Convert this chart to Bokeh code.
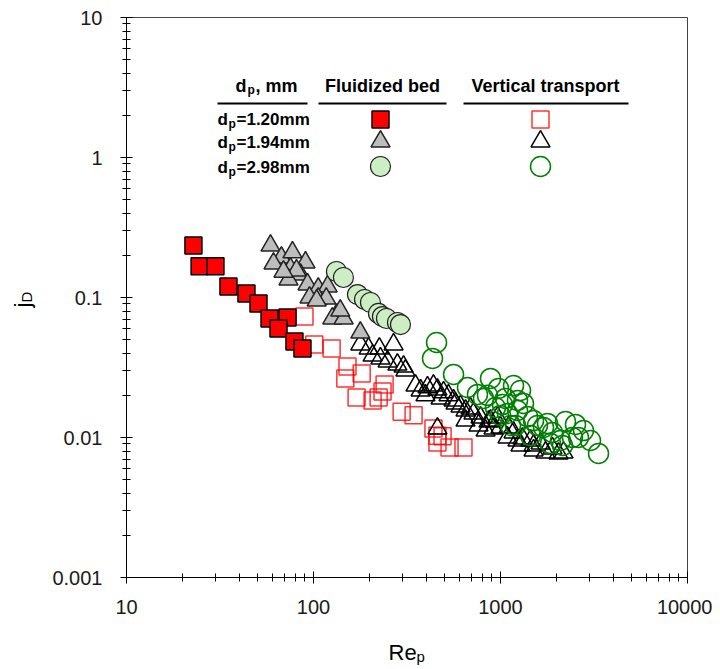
import math
from bokeh.plotting import figure
from bokeh.layouts import row, column
from bokeh.models import FixedTicker, CustomJSTickFormatter, Label, BoxAnnotation
from bokeh.embed import file_html
from bokeh.resources import INLINE

# ---------------- data (Re_p, j_D) ----------------
fb_120_re = [22.8, 24.6, 29.9, 35.1, 43.8, 50.8, 58.2, 72.6, 65.0, 79.1, 87.3]
fb_120_jd = [0.235, 0.167, 0.167, 0.120, 0.107, 0.0906, 0.0708, 0.072, 0.060, 0.0485, 0.0432]

vt_120_re = [89.5, 101, 125, 152, 148, 181, 240, 170, 207, 223, 234, 296, 343, 438, 460, 460, 490, 534, 634]
vt_120_jd = [0.0731, 0.0461, 0.0432, 0.0321, 0.0264, 0.0286, 0.0239, 0.0193, 0.0184, 0.0193, 0.0213,
             0.0153, 0.0144, 0.0116, 0.0103, 0.0092, 0.0102, 0.0085, 0.0085]

fb_194_re = [58.9, 67.4, 77.2, 90.6, 61.1, 75.3, 85.2, 73.5, 92.9, 106, 119, 95.2, 106, 117, 133, 126,
             145, 139, 178, 104, 81.1, 69.1]
fb_194_jd = [0.235, 0.193, 0.210, 0.178, 0.175, 0.161, 0.146, 0.1345, 0.124, 0.116, 0.120, 0.100,
             0.0984, 0.0984, 0.0756, 0.0708, 0.0708, 0.0807, 0.0562, 0.0952, 0.156, 0.153]

vt_194_re = [178, 197, 225, 268, 207, 249, 281, 303, 310, 228, 351, 407, 438, 460, 496, 527, 478, 561,
             575, 611, 650, 691, 717, 782, 863, 918, 884, 964, 1000, 1104, 1174, 1090, 1233, 1311, 1447,
             1502, 1637, 1502, 1740, 1897, 2043, 2173, 374, 397, 763, 832, 650, 1279, 460]
vt_194_jd = [0.0462, 0.0432, 0.0432, 0.0462, 0.0385, 0.0349, 0.0332, 0.0321, 0.0301, 0.0367, 0.0235,
             0.0228, 0.0235, 0.0220, 0.0210, 0.0200, 0.0190, 0.0184, 0.0175, 0.01666, 0.01559, 0.0161,
             0.01484, 0.0139, 0.0130, 0.0116, 0.0132, 0.0139, 0.0118, 0.0118, 0.01086, 0.0100, 0.00952,
             0.00984, 0.00952, 0.00877, 0.00906, 0.00808, 0.00781, 0.00835, 0.00769, 0.00781, 0.0217,
             0.0200, 0.0122, 0.0112, 0.0132, 0.00877, 0.0116]

fb_298_re = [132.7, 144.6, 171.9, 187.5, 201.7, 222.6, 233.8, 245.6, 281.3, 291.9]
fb_298_jd = [0.1534, 0.139, 0.105, 0.0968, 0.0921, 0.0769, 0.0731, 0.0708, 0.0663, 0.0641]

vt_298_re = [455, 433, 561, 666, 753, 884, 976, 1174, 1279, 811, 1025, 1090, 1233, 1233, 1395, 1502,
             1698, 1897, 2226, 2518, 2779, 2613, 3029, 3343, 2146, 1851, 1447, 1131, 940, 1063, 852,
             1327, 1577, 1784, 2094, 2427, 1203, 1000]
vt_298_jd = [0.0477, 0.0367, 0.0282, 0.0228, 0.0203, 0.0264, 0.0224, 0.0235, 0.0217, 0.0190, 0.0172,
             0.01484, 0.0184, 0.01559, 0.0141, 0.0132, 0.0118, 0.01086, 0.0130, 0.0124, 0.0112, 0.0100,
             0.00952, 0.00769, 0.00877, 0.00906, 0.01033, 0.0122, 0.01638, 0.0190, 0.0200, 0.0175,
             0.0122, 0.0126, 0.00952, 0.0100, 0.0122, 0.01436]

x_major = [10, 100, 1000, 10000]
y_major = [0.001, 0.01, 0.1, 1, 10]
col_headers = ["Fluidized bed", "Vertical transport"]
row_labels = ["=1.20mm", "=1.94mm", "=2.98mm"]

FONT = "Liberation Sans"
LW = 40                      # width of the left strip holding the y title
TOTAL_H = 669
W = 712 - LW
FL, FR, FT, FB = 126 - LW, 25, 17, 45
H = FT + 560 + FB
FW, FH = W - FL - FR, H - FT - FB
BH = TOTAL_H - H             # height of the bottom strip holding the x title

p = figure(width=W, height=H, x_axis_type="log", y_axis_type="log",
           x_range=(10, 10000), y_range=(0.001, 10),
           output_backend="svg", toolbar_location=None,
           min_border_left=FL, min_border_right=FR, min_border_top=FT, min_border_bottom=FB)
p.background_fill_color = "white"
p.border_fill_color = "white"
p.outline_line_color = "#444444"
p.outline_line_width = 1
p.xgrid.visible = False
p.ygrid.visible = False

x_minor = [k * 10 ** e for e in range(1, 4) for k in range(2, 10)]
y_minor = [k * 10.0 ** e for e in range(-3, 1) for k in range(2, 10)]
p.xaxis.ticker = FixedTicker(ticks=x_major, minor_ticks=x_minor)
p.yaxis.ticker = FixedTicker(ticks=y_major, minor_ticks=y_minor)
fmt = CustomJSTickFormatter(code="return tick.toString();")
p.xaxis.formatter = fmt
p.yaxis.formatter = fmt

for ax in (p.xaxis, p.yaxis):
    ax.axis_line_color = "black"
    ax.axis_line_width = 1
    ax.major_tick_line_color = "black"
    ax.minor_tick_line_color = "black"
    ax.major_tick_in = 6
    ax.major_tick_out = 6
    ax.minor_tick_in = 4
    ax.minor_tick_out = 4
    ax.major_label_text_font = FONT
    ax.major_label_text_font_size = "20px"
    ax.major_label_text_color = "#1a1a1a"
p.xaxis.major_label_standoff = 16
p.yaxis.major_label_standoff = 18

# ---------------- data markers ----------------
p.scatter(vt_120_re, vt_120_jd, marker="square", size=17, fill_color=None,
          line_color="#ff0000", line_alpha=0.8, line_width=1.5)
p.scatter(vt_194_re, vt_194_jd, marker="triangle", size=19, fill_color=None,
          line_color="black", line_width=1.5)
p.scatter(vt_298_re, vt_298_jd, marker="circle", size=20, fill_color=None,
          line_color="#008000", line_width=1.5)
p.scatter(fb_120_re, fb_120_jd, marker="square", size=17, fill_color="#ff0000",
          line_color="black", line_width=1.5)
p.scatter(fb_194_re, fb_194_jd, marker="triangle", size=19, fill_color="#bdbdbd",
          line_color="#222222", line_width=1.5)
p.scatter(fb_298_re, fb_298_jd, marker="circle", size=20, fill_color="#cdeec4",
          line_color="#222222", line_width=1.2)

# ---------------- legend table ----------------
def fx(px):
    return 10 ** (1 + 3 * px / FW)

def fy(py):
    return 10 ** (-3 + 4 * py / FH)

col_x = [254, 414]
row_y = [458, 436, 411]
styles = [
    [dict(marker="square", size=17, fill_color="#ff0000", line_color="black", line_width=1.5),
     dict(marker="square", size=17, fill_color=None, line_color="#ff0000", line_alpha=0.8, line_width=1.5)],
    [dict(marker="triangle", size=19, fill_color="#bdbdbd", line_color="#222222", line_width=1.5),
     dict(marker="triangle", size=19, fill_color=None, line_color="black", line_width=1.5)],
    [dict(marker="circle", size=20, fill_color="#cdeec4", line_color="#222222", line_width=1.2),
     dict(marker="circle", size=20, fill_color=None, line_color="#008000", line_width=1.5)],
]
for r, ry in enumerate(row_y):
    for c, cx in enumerate(col_x):
        p.scatter([fx(cx)], [fy(ry)], **styles[r][c])


def lab(fig, x, y, text, size, bold=False, align="left", angle=0.0):
    fig.add_layout(Label(x=x, y=y, x_units="screen", y_units="screen", text=text,
                         text_font=FONT, text_font_size=f"{size}px",
                         text_font_style="bold" if bold else "normal",
                         text_align=align, text_baseline="alphabetic",
                         angle=angle, text_color="black"))

# header
lab(p, 109, 492, "d", 18, True)
lab(p, 121, 488, "p", 12, True)
lab(p, 129, 492, ", mm", 18, True)
lab(p, 256, 492, col_headers[0], 18, True, "center")
lab(p, 419, 492, col_headers[1], 18, True, "center")
for (l, r) in [(91, 181), (192, 320), (337, 502)]:
    p.add_layout(BoxAnnotation(left=l, right=r, bottom=473, top=475,
                               left_units="screen", right_units="screen",
                               top_units="screen", bottom_units="screen",
                               fill_color="black", fill_alpha=1, line_color=None))
for txt, ry in zip(row_labels, [458, 435, 410]):
    lab(p, 91, ry, "d", 17, True)
    lab(p, 102, ry - 4, "p", 12, True)
    lab(p, 110, ry, txt, 17, True)


# ---------------- axis titles in side strips ----------------
def strip(w, h):
    f = figure(width=w, height=h, x_range=(0, 1), y_range=(0, 1),
               x_axis_location=None, y_axis_location=None,
               output_backend="svg", toolbar_location=None,
               min_border_left=0, min_border_right=0, min_border_top=0, min_border_bottom=0)
    f.outline_line_color = None
    f.xgrid.visible = False
    f.ygrid.visible = False
    f.background_fill_color = "white"
    f.border_fill_color = "white"
    return f

left = strip(LW, TOTAL_H)
lab(left, 22, TOTAL_H - 307, "j", 22, angle=math.pi / 2)
lab(left, 26, TOTAL_H - 302, "D", 15, angle=math.pi / 2)

# the bottom strip's frame is aligned with the main frame (starts at its left edge)
bottom = strip(W, BH)
lab(bottom, 262, TOTAL_H - 652, "Re", 22)
lab(bottom, 290, TOTAL_H - 656, "p", 15)

layout = row(left, column(p, bottom, spacing=0), spacing=0)
open("out.html", "w").write(file_html(layout, INLINE))
